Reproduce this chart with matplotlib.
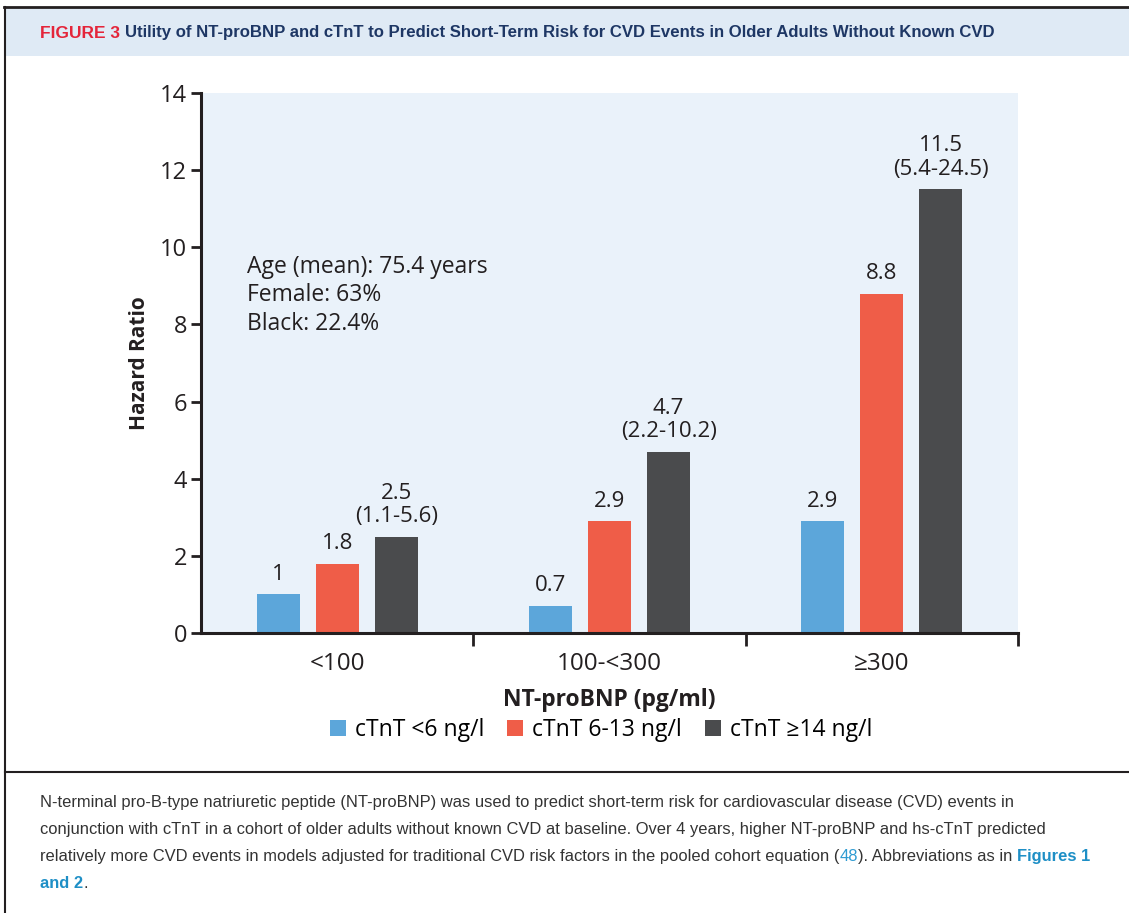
import matplotlib
matplotlib.use("Agg")
import matplotlib.pyplot as plt
import numpy as np
from matplotlib.patches import Rectangle, Patch
from matplotlib.lines import Line2D

# data
groups = ['<100', '100-<300', '≥300']
series = ['cTnT <6 ng/l', 'cTnT 6-13 ng/l', 'cTnT ≥14 ng/l']
hr_low = [1.0, 0.7, 2.9]
hr_mid = [1.8, 2.9, 8.8]
hr_high = [2.5, 4.7, 11.5]
hr_labels_low = ['1', '0.7', '2.9']
hr_labels_mid = ['1.8', '2.9', '8.8']
hr_labels_high = ['2.5\n(1.1-5.6)', '4.7\n(2.2-10.2)', '11.5\n(5.4-24.5)']
colors = ['#5CA6DA', '#EF5D48', '#4A4B4D']

W, H = 1129, 913
plt.rcParams['font.family'] = ['Open Sans', 'DejaVu Sans']
fig = plt.figure(figsize=(W / 100, H / 100), dpi=100)
fig.patch.set_facecolor('white')
renderer = fig.canvas.get_renderer()

def fx(px):
    return px / W

def fy(py):
    return 1 - py / H

def fit(t, width_px):
    # shrink/grow a text so it spans the given pixel width
    w = t.get_window_extent(renderer=renderer).width
    t.set_fontsize(t.get_fontsize() * width_px / w)

# frame, header band and caption separator
fig.patches.append(Rectangle((fx(5), fy(56)), 1, fy(8) - fy(56), transform=fig.transFigure,
                             facecolor='#DFEAF5', edgecolor='none', zorder=0))
fig.lines.append(Line2D([fx(4), 1], [fy(7), fy(7)], transform=fig.transFigure, color='#231F20', lw=2))
fig.lines.append(Line2D([fx(5), fx(5)], [fy(7), 0], transform=fig.transFigure, color='#231F20', lw=1.5))
fig.lines.append(Line2D([fx(5), 1], [fy(772), fy(772)], transform=fig.transFigure, color='#231F20', lw=1.5))

narrow = ['Liberation Sans', 'DejaVu Sans']
t = fig.text(fx(40), fy(33), 'FIGURE 3', color='#E4253A', fontsize=11, fontweight='bold',
             family=narrow, va='center', ha='left')
fit(t, 80)
t = fig.text(fx(125), fy(33), 'Utility of NT-proBNP and cTnT to Predict Short-Term Risk for CVD Events in Older Adults Without Known CVD',
             color='#1E3765', fontsize=11.5, fontweight='bold', family=narrow, va='center', ha='left')
fit(t, 880)

# chart
ax = fig.add_axes([fx(201), fy(633), fx(1018) - fx(201), fy(93) - fy(633)])
ax.set_facecolor('#EAF2FA')
x = np.arange(len(groups))
bw = 0.158
off = 0.217
for i, (vals, labs) in enumerate(zip([hr_low, hr_mid, hr_high], [hr_labels_low, hr_labels_mid, hr_labels_high])):
    xs = x + (i - 1) * off
    ax.bar(xs, vals, width=bw, color=colors[i], label=series[i], zorder=2)
    for xx, v, lab in zip(xs, vals, labs):
        ax.text(xx, v + 0.25, lab, ha='center', va='bottom', fontsize=16, color='#231F20',
                linespacing=1.15)

ax.set_xlim(-0.5, 2.5)
ax.set_ylim(0, 14)
ax.set_yticks(range(0, 15, 2))
ax.set_xticks([0.5, 1.5, 2.5])
ax.set_xticklabels([])
ax.set_xticks(x, minor=True)
ax.set_xticklabels(groups, minor=True)
ax.tick_params(axis='x', which='major', length=9, width=2, color='#231F20')
ax.tick_params(axis='x', which='minor', length=0, pad=14, labelsize=17.5, labelcolor='#231F20')
ax.tick_params(axis='y', length=7, width=2, color='#231F20', labelsize=17, labelcolor='#231F20', pad=3)
for s in ['top', 'right']:
    ax.spines[s].set_visible(False)
for s in ['left', 'bottom']:
    ax.spines[s].set_linewidth(2.2)
    ax.spines[s].set_color('#231F20')

ax.set_ylabel('Hazard Ratio', fontsize=15, fontweight='bold', color='#231F20', labelpad=7)
ax.set_xlabel('NT-proBNP (pg/ml)', fontsize=16.5, fontweight='bold', color='#231F20', labelpad=8)

ax.text(-0.33, 9.8, 'Age (mean): 75.4 years\nFemale: 63%\nBlack: 22.4%', ha='left', va='top',
        fontsize=16.5, color='#231F20', linespacing=1.24)

handles = [Patch(facecolor=c, label=s) for c, s in zip(colors, series)]
fig.legend(handles=handles, loc='center', bbox_to_anchor=(fx(601), fy(730)), ncol=3, frameon=False,
           fontsize=16.5, handlelength=0.7, handleheight=0.7, handletextpad=0.4, columnspacing=1.0,
           borderaxespad=0)

# caption
cap_kw = dict(fontsize=12, family=narrow, color='#333333', va='center', ha='left')
ys = [803, 829, 856, 883]
t1 = fig.text(fx(40), fy(ys[0]), 'N-terminal pro-B-type natriuretic peptide (NT-proBNP) was used to predict short-term risk for cardiovascular disease (CVD) events in', **cap_kw)
t2 = fig.text(fx(40), fy(ys[1]), 'conjunction with cTnT in a cohort of older adults without known CVD at baseline. Over 4 years, higher NT-proBNP and hs-cTnT predicted', **cap_kw)
fit(t2, 1000)
cap_kw['fontsize'] = t2.get_fontsize()
t1.set_fontsize(cap_kw['fontsize'])

pieces = [
    ('relatively more CVD events in models adjusted for traditional CVD risk factors in the pooled cohort equation (', '#333333', 'normal'),
    ('48', '#2E9BD2', 'normal'),
    ('). Abbreviations as in ', '#333333', 'normal'),
    ('Figures 1', '#1E8FC6', 'bold'),
]
xpos = fx(40)
for txt, col, wt in pieces:
    kw = dict(cap_kw)
    kw['color'] = col
    t = fig.text(xpos, fy(ys[2]), txt, fontweight=wt, **kw)
    bb = t.get_window_extent(renderer=renderer)
    xpos += bb.width / W
t = fig.text(fx(40), fy(ys[3]), 'and 2', fontweight='bold', **dict(cap_kw, color='#1E8FC6'))
bb = t.get_window_extent(renderer=renderer)
fig.text(fx(40) + bb.width / W, fy(ys[3]), '.', **cap_kw)

fig.savefig('out.png', dpi=100)
